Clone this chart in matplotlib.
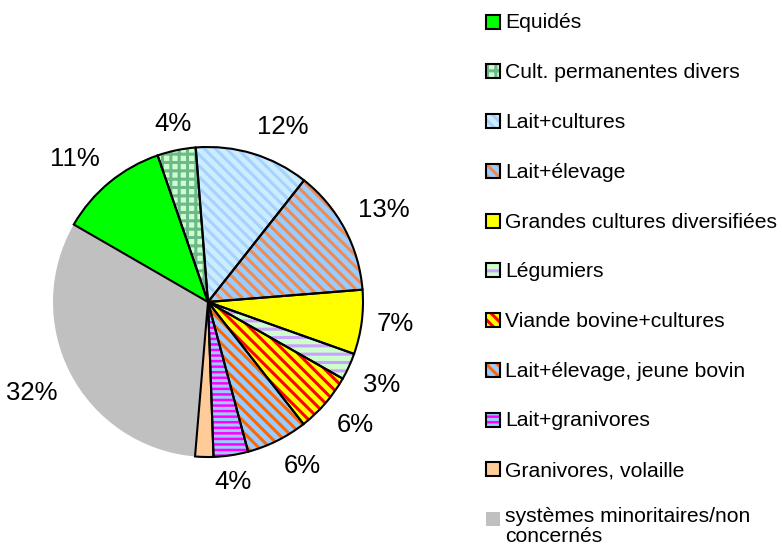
import numpy as np
import matplotlib
matplotlib.use("Agg")
import matplotlib.pyplot as plt
from matplotlib.patches import Rectangle, Wedge

plt.rcParams['font.family'] = ['Liberation Sans', 'DejaVu Sans']
plt.rcParams['hatch.linewidth'] = 2.2

# ---------------------------------------------------------------------------
# data (shares in %)
# ---------------------------------------------------------------------------
categories = ["Equidés", "Cult. permanentes divers", "Lait+cultures", "Lait+élevage",
              "Grandes cultures diversifiées", "Légumiers", "Viande bovine+cultures",
              "Lait+élevage, jeune bovin", "Lait+granivores", "Granivores, volaille",
              "systèmes minoritaires/non\nconcernés"]
shares = [11.4, 4.0, 11.9, 13.1, 6.7, 2.8, 6.2, 6.4, 3.6, 1.9, 32.0]
pct_labels = ["11%", "4%", "12%", "13%", "7%", "3%", "6%", "6%", "4%", "", "32%"]

# style per slice: face, hatch colour, hatch, black outline
styles = [
    ("#00FF00", None,        "",       True),
    ("#CCFFCC", "#6DB98A",   "++",     True),
    ("#CCECFF", "#A6D2FF",   "\\\\\\", True),
    ("#99CCFF", "#F08A50",   "\\\\\\", True),
    ("#FFFF00", None,        "",       True),
    ("#CCFFCC", "#CCA0FF",   "--",     True),
    ("#FFFF00", "#FF0000",   "\\\\\\", True),
    ("#99CCFF", "#FF6600",   "\\\\\\", True),
    ("#FF00FF", "#99CCFF",   "---",    True),
    ("#FFCC99", None,        "",       True),
    ("#C0C0C0", None,        "",       False),
]

W, H = 782, 553
CX, CY, R_PX, HALF = 208, 302, 155, 200

fig = plt.figure(figsize=(W / 100, H / 100), dpi=100)
ax = fig.add_axes([(CX - HALF) / W, 1 - (CY + HALF) / H, 2 * HALF / W, 2 * HALF / H])

def style_patch(p, st):
    face, hcol, hatch, _ = st
    p.set_facecolor(face)
    p.set_edgecolor(hcol if hcol else face)
    p.set_linewidth(0)
    if hatch:
        p.set_hatch(hatch)

wedges, _ = ax.pie(shares, startangle=150, counterclock=False, radius=1,
                   wedgeprops=dict(linewidth=0))
lim = HALF / R_PX
ax.set_xlim(-lim, lim); ax.set_ylim(-lim, lim)

pad = 15 / R_PX
for w, st, lab in zip(wedges, styles, pct_labels):
    style_patch(w, st)
    ax.add_patch(Wedge((0, 0), 1, w.theta1, w.theta2, facecolor='none',
                       edgecolor='black' if st[3] else 'none', lw=1.5))
    if not lab:
        continue
    th = np.deg2rad((w.theta1 + w.theta2) / 2)
    c, s = np.cos(th), np.sin(th)
    ha = 'left' if c > 0.25 else ('right' if c < -0.25 else 'center')
    va = 'bottom' if s > 0.25 else ('top' if s < -0.25 else 'center')
    ax.text((1 + pad) * c, (1 + pad) * s, lab, ha=ha, va=va, fontsize=18.5)

# ---------------------------------------------------------------------------
# legend (drawn by hand in pixel coords)
# ---------------------------------------------------------------------------
lax = fig.add_axes([0, 0, 1, 1])
lax.set_xlim(0, W); lax.set_ylim(H, 0); lax.axis('off')
y0, step, fs = 21.5, 49.75, 15.2
for i, (name, st) in enumerate(zip(categories, styles)):
    cy = y0 + i * step
    sq = Rectangle((486, cy - 7), 14, 14)
    style_patch(sq, st)
    lax.add_patch(sq)
    if st[3]:
        lax.add_patch(Rectangle((486, cy - 7), 14, 14, facecolor='none',
                                edgecolor='black', lw=1.5))
    if "\n" in name:
        lax.text(505, cy + 7 - 0.905 * fs * 100 / 72, name, va='top', ha='left',
                 fontsize=fs, linespacing=1.08)
    else:
        lax.text(505, cy + 7, name, va='baseline', ha='left', fontsize=fs)

fig.savefig("out.png", dpi=100)
